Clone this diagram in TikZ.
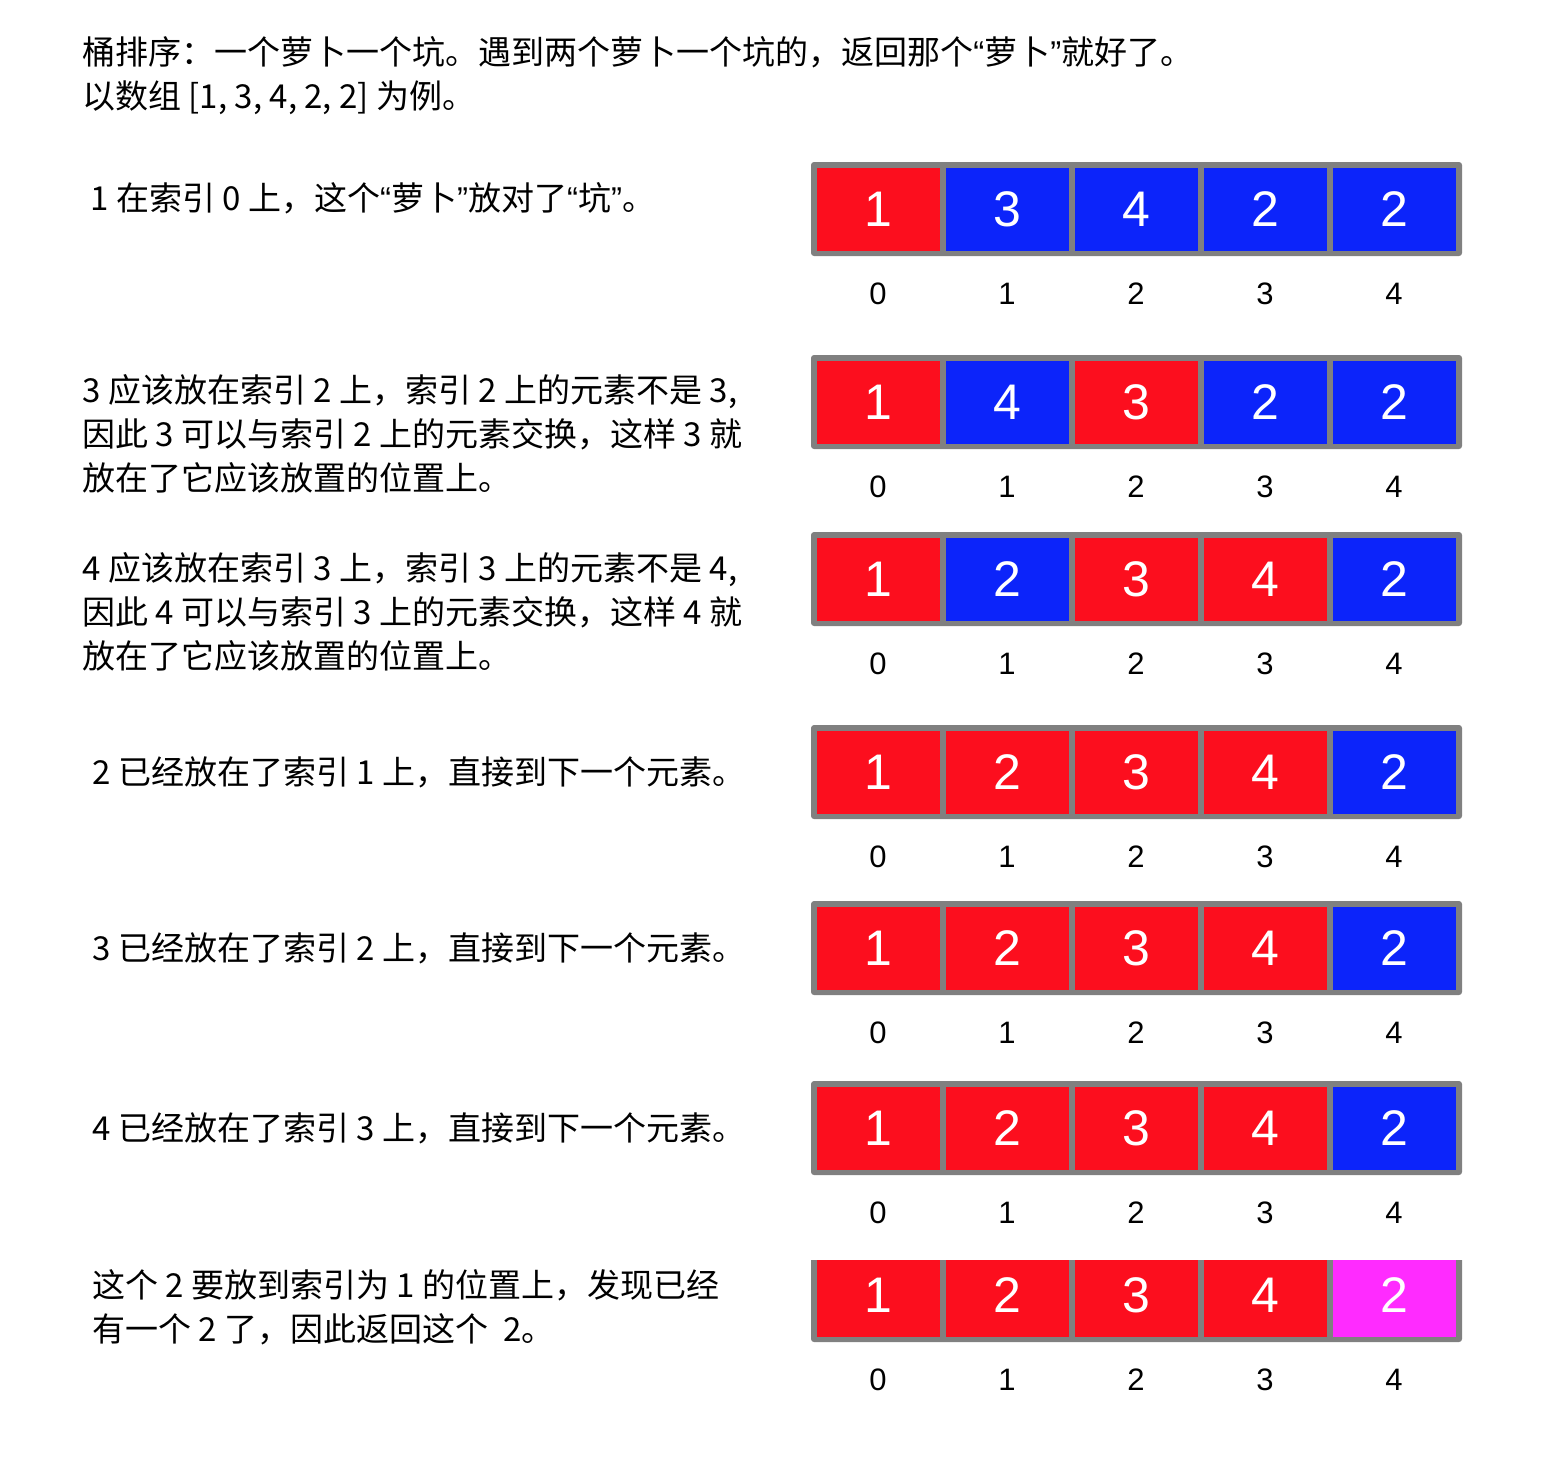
\documentclass[tikz,border=0pt]{standalone}
\usepackage{fontspec}
\newfontfamily\cjk{Noto Sans CJK SC}
\newfontfamily\numfont{Liberation Sans}
\usetikzlibrary{positioning}
\definecolor{cellred}{RGB}{252,14,30}
\definecolor{cellblue}{RGB}{12,36,250}
\definecolor{cellpink}{RGB}{255,43,255}
\definecolor{framegray}{RGB}{128,128,128}
\newcommand\openq{{\numfont“}}
\newcommand\closeq{{\numfont”}}

\begin{document}
\begin{tikzpicture}[
  x=0.5pt, y=-0.5pt,
  cell/.style={minimum width=61.5pt, minimum height=41.5pt, inner sep=0pt, text=white, font=\numfont\fontsize{25}{25}\selectfont},
  idx/.style={inner sep=0pt, font=\numfont\fontsize{15.5}{15.5}\selectfont},
  note/.style={anchor=west, align=left, inner sep=0pt, font=\cjk\fontsize{16.5}{22}\selectfont},
  frame/.style={fill=framegray, rounded corners=1.5pt}
]
  \useasboundingbox (0,0) rectangle (1550,1480);

  % explanations
  \node[note] (title) at (82,76) {桶排序：一个萝卜一个坑。遇到两个萝卜一个坑的，返回那个\openq 萝卜\closeq 就好了。\\以数组 [1, 3, 4, 2, 2] 为例。};
  \node[note] (step1) at (90,198) {1 在索引 0 上，这个\openq 萝卜\closeq 放对了\openq 坑\closeq 。};
  \node[note] (step2) at (82,434) {3 应该放在索引 2 上，索引 2 上的元素不是 3,\\因此 3 可以与索引 2 上的元素交换，这样 3 就\\放在了它应该放置的位置上。};
  \node[note] (step3) at (82,612) {4 应该放在索引 3 上，索引 3 上的元素不是 4,\\因此 4 可以与索引 3 上的元素交换，这样 4 就\\放在了它应该放置的位置上。};
  \node[note] (step4) at (92,772) {2 已经放在了索引 1 上，直接到下一个元素。};
  \node[note] (step5) at (92,948) {3 已经放在了索引 2 上，直接到下一个元素。};
  \node[note] (step6) at (92,1128) {4 已经放在了索引 3 上，直接到下一个元素。};
  \node[note] (step7) at (92,1307) {这个 2 要放到索引为 1 的位置上，发现已经\\有一个 2 了，因此返回这个\ \ 2。};

  % arrays
  \foreach \r/\y/\top/\cells in {
      1/209/47/{cellred/1,cellblue/3,cellblue/4,cellblue/2,cellblue/2},
      2/402/47/{cellred/1,cellblue/4,cellred/3,cellblue/2,cellblue/2},
      3/579/47/{cellred/1,cellblue/2,cellred/3,cellred/4,cellblue/2},
      4/772/47/{cellred/1,cellred/2,cellred/3,cellred/4,cellblue/2},
      5/948/47/{cellred/1,cellred/2,cellred/3,cellred/4,cellblue/2},
      6/1128/47/{cellred/1,cellred/2,cellred/3,cellred/4,cellblue/2},
      7/1295/35/{cellred/1,cellred/2,cellred/3,cellred/4,cellpink/2}}{
    \begin{scope}
      \clip (0,\y-\top) rectangle (1550,\y+120);
      \fill[frame] (811,\y-47) rectangle (1462,\y+47);
      \foreach \c/\v [count=\i from 0] in \cells {
        \node[cell, fill=\c] (c\r-\i) at (878+129*\i,\y) {\v};
        \node[idx] (l\r-\i) at (878+129*\i,\y+85) {\i};
      }
    \end{scope}
  }
\end{tikzpicture}
\end{document}
